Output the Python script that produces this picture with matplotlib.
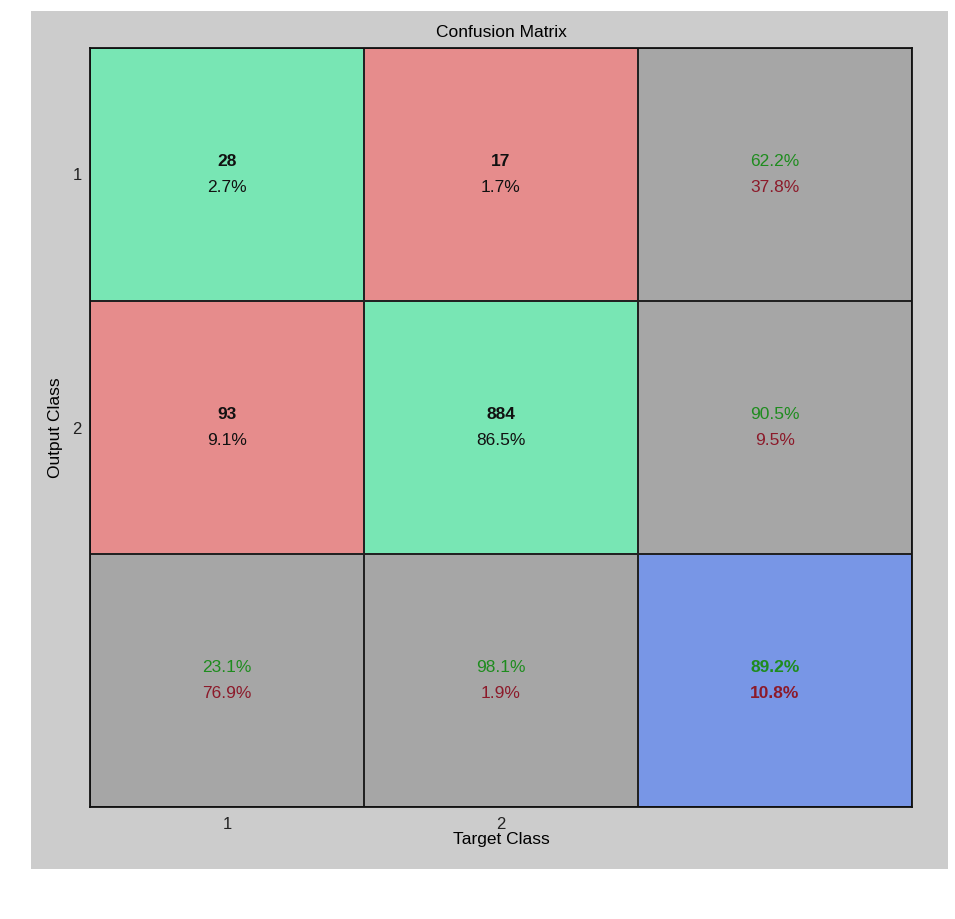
import numpy as np
import matplotlib
matplotlib.use("Agg")
import matplotlib.pyplot as plt
from matplotlib.colors import ListedColormap
from matplotlib.patches import Rectangle

plt.rcParams['font.family'] = ['Liberation Sans', 'DejaVu Sans']

# values
classes = ["1", "2"]
counts = [[28, 17],
          [93, 884]]
cell_pct = [["2.7%", "1.7%"],
            ["9.1%", "86.5%"]]
row_ok = ["62.2%", "90.5%"]      # precision per output class
row_bad = ["37.8%", "9.5%"]
col_ok = ["23.1%", "98.1%"]      # recall per target class
col_bad = ["76.9%", "1.9%"]
total_ok = "89.2%"
total_bad = "10.8%"

GREEN_CELL = "#78e6b4"
RED_CELL = "#e68c8c"
GRAY_CELL = "#a6a6a6"
BLUE_CELL = "#7896e6"
BG = "#cccccc"
GREEN_TXT = "#1e8c1e"
RED_TXT = "#8c1a2a"

n = len(classes)

# cell kind: 0 correct, 1 wrong, 2 summary, 3 overall
kind = np.full((n + 1, n + 1), 2)
for i in range(n):
    for j in range(n):
        kind[i, j] = 0 if i == j else 1
kind[n, n] = 3
cmap = ListedColormap([GREEN_CELL, RED_CELL, GRAY_CELL, BLUE_CELL])

fig = plt.figure(figsize=(9.55, 9.19), dpi=100)
fig.patch.set_facecolor("white")
fig.patches.append(Rectangle((31 / 955, 50 / 919), 917 / 955, 858 / 919,
                             transform=fig.transFigure, facecolor=BG,
                             edgecolor="none", zorder=-10))

ax = fig.add_axes([90 / 955, 112 / 919, 822 / 955, 759 / 919])
ax.pcolormesh(np.arange(n + 2), np.arange(n + 2), kind, cmap=cmap,
              vmin=-0.5, vmax=3.5, edgecolors="#222222", linewidth=1.1)
ax.set_xlim(0, n + 1)
ax.set_ylim(n + 1, 0)

fs = 12.5
dy = 0.05
for i in range(n):
    for j in range(n):
        ax.text(j + 0.5, i + 0.5 - dy, str(counts[i][j]), ha="center", va="center",
                fontsize=fs, fontweight="bold", color="#111111")
        ax.text(j + 0.5, i + 0.5 + dy, cell_pct[i][j], ha="center", va="center",
                fontsize=fs, color="#111111")
    # right column: per-row summary
    ax.text(n + 0.5, i + 0.5 - dy, row_ok[i], ha="center", va="center",
            fontsize=fs, color=GREEN_TXT)
    ax.text(n + 0.5, i + 0.5 + dy, row_bad[i], ha="center", va="center",
            fontsize=fs, color=RED_TXT)
    # bottom row: per-column summary
    ax.text(i + 0.5, n + 0.5 - dy, col_ok[i], ha="center", va="center",
            fontsize=fs, color=GREEN_TXT)
    ax.text(i + 0.5, n + 0.5 + dy, col_bad[i], ha="center", va="center",
            fontsize=fs, color=RED_TXT)

ax.text(n + 0.5, n + 0.5 - dy, total_ok, ha="center", va="center",
        fontsize=fs, fontweight="bold", color=GREEN_TXT)
ax.text(n + 0.5, n + 0.5 + dy, total_bad, ha="center", va="center",
        fontsize=fs, fontweight="bold", color=RED_TXT)

ax.set_xticks(np.arange(n) + 0.5)
ax.set_xticklabels(classes, fontsize=12)
ax.set_yticks(np.arange(n) + 0.5)
ax.set_yticklabels(classes, fontsize=12)
ax.tick_params(length=0, colors="#222222")
ax.tick_params(axis="x", pad=7)
ax.tick_params(axis="y", pad=6)
ax.set_xlabel("Target Class", fontsize=12.5, labelpad=0)
ax.set_ylabel("Output Class", fontsize=12.5, labelpad=7)
ax.set_title("Confusion Matrix", fontsize=12.5, pad=8)
for s in ax.spines.values():
    s.set_color("#111111")
    s.set_linewidth(1.3)

plt.savefig("out.png", dpi=100)
